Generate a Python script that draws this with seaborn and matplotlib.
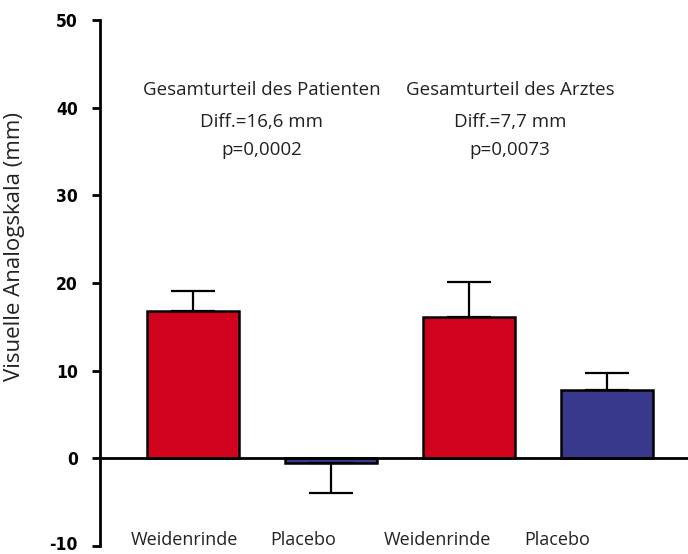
import matplotlib
matplotlib.use("Agg")
import matplotlib.pyplot as plt
import matplotlib.transforms as mtransforms
import seaborn as sns
import pandas as pd
import numpy as np

# ---- data ----
bar_keys = ["Patient-Weidenrinde", "Patient-Placebo", "Arzt-Weidenrinde", "Arzt-Placebo"]
treatments = ["Weidenrinde", "Placebo", "Weidenrinde", "Placebo"]
values = [16.8, -0.5, 16.1, 7.8]
err_upper = [2.3, 0.0, 4.0, 1.9]
err_lower = [0.0, 3.4, 0.0, 0.0]
group_titles = ["Gesamturteil des Patienten", "Gesamturteil des Arztes"]
group_diff = ["Diff.=16,6 mm", "Diff.=7,7 mm"]
group_p = ["p=0,0002", "p=0,0073"]
yticks = [-10, 0, 10, 20, 30, 40, 50]
ylabel = "Visuelle Analogskala (mm)"

sns.set_theme(style="white")
plt.rcParams["font.family"] = ["Open Sans", "DejaVu Sans"]

df = pd.DataFrame({"key": bar_keys, "treatment": treatments, "value": values})

fig = plt.figure(figsize=(6.88, 5.54), dpi=100)
ax = fig.add_axes([0.1453, 0.0144, 0.8547, 0.9496])

sns.barplot(data=df, x="key", y="value", hue="treatment", order=bar_keys,
            palette={"Weidenrinde": "#D0021E", "Placebo": "#38388C"},
            saturation=1, dodge=False, width=0.667, edgecolor="black", linewidth=1.8,
            legend=False, errorbar=None, ax=ax, zorder=2)

xpos = np.arange(len(bar_keys))
ax.errorbar(xpos, values, yerr=[err_lower, err_upper], fmt="none",
            ecolor="black", elinewidth=1.6, capsize=16, capthick=1.6, zorder=3)

ax.axhline(0, color="black", lw=2, zorder=4)

ax.set_xlim(-0.675, 3.59)
ax.set_ylim(-10, 50)
ax.set_yticks(yticks)
ax.set_yticklabels([str(t) for t in yticks], fontweight="heavy", fontstretch="condensed",
                   fontfamily=["DejaVu Sans"], fontsize=12.5, color="black")
ax.tick_params(axis="y", direction="out", length=6, width=2, pad=10, left=True, color="black")
# nudge the lowest tick label slightly up so it stays inside the figure
lowest = ax.get_yticklabels()[0]
lowest.set_transform(lowest.get_transform() +
                     mtransforms.ScaledTranslation(0, 2 / 72, fig.dpi_scale_trans))
ax.set_xticks([])
ax.set_xlabel("")
ax.set_ylabel(ylabel, fontsize=16, color="#222222")
ax.yaxis.set_label_coords(-0.128, 0.57)

for s in ["top", "right", "bottom"]:
    ax.spines[s].set_visible(False)
ax.spines["left"].set_linewidth(2)
ax.spines["left"].set_color("black")

# category labels below
label_x = [-0.06, 0.80, 1.77, 2.64]
for x, t in zip(label_x, treatments):
    ax.text(x, -9.3, t, ha="center", va="center", fontsize=13, color="#222222")

# group annotations
gx = [0.50, 2.30]
for x, a, b, c in zip(gx, group_titles, group_diff, group_p):
    ax.text(x, 42.0, a, ha="center", va="center", fontsize=13.5, color="#222222")
    ax.text(x, 38.4, b, ha="center", va="center", fontsize=13.5, color="#222222")
    ax.text(x, 35.2, c, ha="center", va="center", fontsize=13.5, color="#222222")

fig.savefig("out.png", dpi=100)
